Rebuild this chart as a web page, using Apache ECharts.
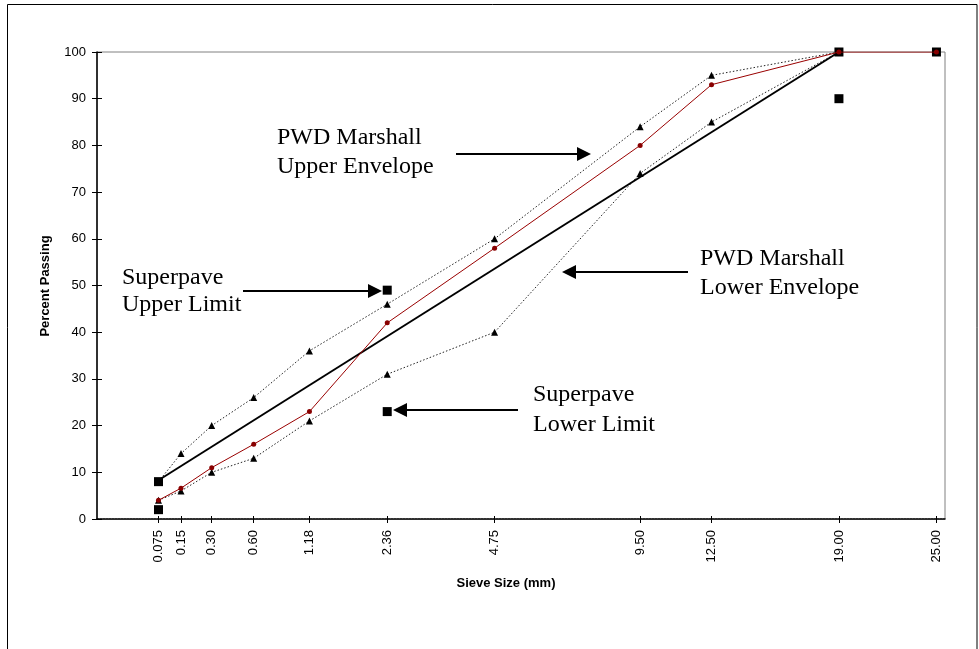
<!DOCTYPE html>
<html>
<head>
<meta charset="utf-8">
<script src="https://cdn.jsdelivr.net/npm/echarts@6/dist/echarts.min.js"></script>
<style>
  html, body { margin: 0; padding: 0; background: #fff; }
  #chart { width: 979px; height: 649px; }
</style>
</head>
<body>
<div id="chart"></div>
<script>
// Sieve sizes (mm) and their axis labels
const sieves = [0.075, 0.15, 0.30, 0.60, 1.18, 2.36, 4.75, 9.50, 12.50, 19.00, 25.00];
const sieveLabels = ['0.075', '0.15', '0.30', '0.60', '1.18', '2.36', '4.75', '9.50', '12.50', '19.00', '25.00'];

// Design blend gradation (percent passing)
const blendPassing = [4, 6.6, 11, 16, 23, 42, 58, 80, 93, 100, 100];

// PWD Marshall envelopes (0.075 .. 19.00)
const pwdUpper = [8, 14, 20, 26, 36, 46, 60, 84, 95, 100];
const pwdLower = [4, 6, 10, 13, 21, 31, 40, 74, 85, 100];

// Superpave control points
const controlSieves = [0.075, 2.36, 19.00, 25.00];
const superpaveUpper = [8, 49, 100, 100];
const superpaveLower = [2, 23, 90, null];

// Maximum density line end points
const maxDensitySieves = [0.075, 19.00];
const maxDensityPassing = [8.3, 100];

// Y axis ticks
const yTicks = { min: 0, max: 100, step: 10 };

// 0.45 power gradation scale
const POWER = 0.45;
const px = d => Math.pow(d, POWER);

const pairs = (xs, ys) => xs.map((d, i) => [px(d), ys[i]]).filter(p => p[1] != null);

const tickPositions = sieves.map(px);
const labelFor = v => {
  const i = tickPositions.findIndex(t => Math.abs(t - v) < 1e-6);
  return i >= 0 ? sieveLabels[i] : '';
};

const chart = echarts.init(document.getElementById('chart'), null, { renderer: 'canvas' });

const sansFont = "'Liberation Sans', Arial, Helvetica, sans-serif";
const serifFont = "'Liberation Serif', 'Times New Roman', serif";

// Annotation helpers: two-line caption and horizontal arrow
function caption(x, y1, y2, line1, line2) {
  return [line1, line2].map((t, i) => ({
    type: 'text',
    x: x, y: i === 0 ? y1 : y2,
    z: 20,
    style: { text: t, font: '24px ' + serifFont, fill: '#000', align: 'left', verticalAlign: 'middle' }
  }));
}
function arrow(tailX, tipX, y) {
  const dir = tipX > tailX ? 1 : -1;
  const headLen = 14, headHalf = 7;
  return [
    { type: 'line', z: 20, shape: { x1: tailX, y1: y, x2: tipX - dir * headLen, y2: y },
      style: { stroke: '#000', lineWidth: 2 } },
    { type: 'polygon', z: 20, shape: { points: [[tipX, y], [tipX - dir * headLen, y - headHalf], [tipX - dir * headLen, y + headHalf]] },
      style: { fill: '#000' } }
  ];
}

const graphics = [
  // outer frame
  { type: 'rect', z: 0, shape: { x: 7.5, y: 4.5, width: 969.5, height: 700 },
    style: { fill: 'none', stroke: '#000', lineWidth: 1 } },
  // axis titles
  { type: 'text', z: 20, x: 45, y: 286, rotation: Math.PI / 2,
    style: { text: 'Percent Passing', font: 'bold 13px ' + sansFont, fill: '#000', align: 'center', verticalAlign: 'middle' } },
  { type: 'text', z: 20, x: 506, y: 583,
    style: { text: 'Sieve Size (mm)', font: 'bold 13px ' + sansFont, fill: '#000', align: 'center', verticalAlign: 'middle' } }
]
  .concat(caption(277, 138, 167, 'PWD Marshall', 'Upper Envelope'))
  .concat(arrow(456, 591, 154))
  .concat(caption(122, 278, 305, 'Superpave', 'Upper Limit'))
  .concat(arrow(243, 382, 291))
  .concat(caption(700, 259, 288, 'PWD Marshall', 'Lower Envelope'))
  .concat(arrow(688, 562, 272))
  .concat(caption(533, 395, 425, 'Superpave', 'Lower Limit'))
  .concat(arrow(518, 393, 410));

const option = {
  backgroundColor: '#fff',
  animation: false,
  grid: {
    left: 97, right: 34, top: 52, bottom: 130,
    containLabel: false,
    outerBoundsMode: 'none',
    show: true, borderColor: '#808080', borderWidth: 1, backgroundColor: 'transparent'
  },
  xAxis: [
    {
      type: 'value', min: 0, max: 4.3, position: 'bottom',
      axisLine: { show: true, onZero: false, lineStyle: { color: '#000', width: 1.5, type: [2, 1] } },
      axisTick: { show: true, customValues: tickPositions, length: 4, lineStyle: { color: '#000' } },
      axisLabel: { customValues: tickPositions, rotate: 90, margin: 11, color: '#000',
        fontFamily: sansFont, fontSize: 13, formatter: v => labelFor(v) },
      splitLine: { show: false }
    },
    {
      type: 'value', min: 0, max: 4.3, position: 'bottom', offset: 0,
      axisLine: { show: false },
      axisTick: { show: true, inside: true, customValues: tickPositions, length: 3, lineStyle: { color: '#000' } },
      axisLabel: { show: false },
      splitLine: { show: false }
    }
  ],
  yAxis: [
    {
      type: 'value', min: yTicks.min, max: yTicks.max, interval: yTicks.step, position: 'left',
      axisLine: { show: true, lineStyle: { color: '#000', width: 1.5 } },
      axisTick: { show: true, length: 5, lineStyle: { color: '#000' } },
      axisLabel: { color: '#000', fontFamily: sansFont, fontSize: 13, margin: 11 },
      splitLine: { show: false }
    },
    {
      type: 'value', min: yTicks.min, max: yTicks.max, interval: yTicks.step, position: 'left', offset: 0,
      axisLine: { show: false },
      axisTick: { show: true, inside: true, length: 5, lineStyle: { color: '#000' } },
      axisLabel: { show: false },
      splitLine: { show: false }
    }
  ],
  graphic: graphics,
  series: [
    {
      name: 'PWD Marshall Upper Envelope', type: 'line', z: 2,
      data: pairs(sieves.slice(0, pwdUpper.length), pwdUpper),
      symbol: 'triangle', symbolSize: 7, showAllSymbol: true,
      itemStyle: { color: '#000', opacity: 1 },
      lineStyle: { color: '#222', width: 1, type: [1.5, 2] }
    },
    {
      name: 'PWD Marshall Lower Envelope', type: 'line', z: 2,
      data: pairs(sieves.slice(0, pwdLower.length), pwdLower),
      symbol: 'triangle', symbolSize: 7, showAllSymbol: true,
      itemStyle: { color: '#000', opacity: 1 },
      lineStyle: { color: '#222', width: 1, type: [1.5, 2] }
    },
    {
      name: 'Maximum Density Line', type: 'line', z: 3,
      data: pairs(maxDensitySieves, maxDensityPassing),
      symbol: 'none',
      lineStyle: { color: '#000', width: 2 }
    },
    {
      name: 'Superpave Upper Limit', type: 'scatter', z: 5,
      data: pairs(controlSieves, superpaveUpper),
      symbol: 'rect', symbolSize: 9,
      itemStyle: { color: '#000', opacity: 1 }
    },
    {
      name: 'Superpave Lower Limit', type: 'scatter', z: 5,
      data: pairs(controlSieves, superpaveLower),
      symbol: 'rect', symbolSize: 9,
      itemStyle: { color: '#000', opacity: 1 }
    },
    {
      name: 'Design Blend', type: 'line', z: 6,
      data: pairs(sieves, blendPassing),
      symbol: 'circle', symbolSize: 5, showAllSymbol: true,
      itemStyle: { color: '#880000', opacity: 1 },
      lineStyle: { color: '#990000', width: 1 }
    }
  ]
};

chart.setOption(option);
</script>
</body>
</html>
